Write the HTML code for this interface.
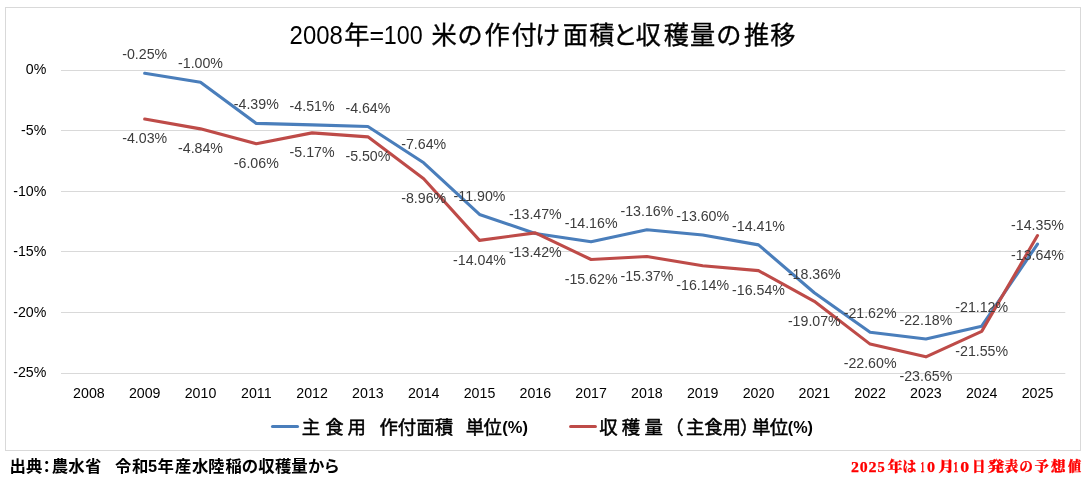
<!DOCTYPE html>
<html lang="ja"><head><meta charset="utf-8"><title>米の作付け面積と収穫量の推移</title>
<style>
html,body{margin:0;padding:0;background:#fff;}
body{width:1087px;height:492px;overflow:hidden;position:relative;font-family:"Liberation Sans","Noto Sans CJK JP",sans-serif;}
svg{position:absolute;left:0;top:0;display:block}
text{white-space:pre}
.ax{font-family:"Liberation Sans","Noto Sans CJK JP",sans-serif;font-size:14.2px;fill:#000}
.dl{font-family:"Liberation Sans","Noto Sans CJK JP",sans-serif;font-size:14.2px;fill:#3c3c3c}
.tl{font-family:"Liberation Sans","Noto Sans CJK JP",sans-serif;font-size:25px;fill:#000}
.tj{font-family:"Liberation Sans","Noto Sans CJK JP",sans-serif;font-size:25.2px;font-weight:400;fill:#000;stroke:#000;stroke-width:0.35px}
.lg{font-family:"Liberation Sans","Noto Sans CJK JP",sans-serif;font-size:18.4px;font-weight:400;fill:#000;stroke:#000;stroke-width:0.5px;stroke-linejoin:round}
.lgl{font-family:"Liberation Sans","Noto Sans CJK JP",sans-serif;font-size:17px;font-weight:bold;fill:#000}
.ft{font-family:"Liberation Sans","Noto Sans CJK JP",sans-serif;font-size:16.4px;font-weight:bold;fill:#000}
.fr{font-family:"Liberation Serif","Noto Serif CJK SC",serif;font-size:13.2px;font-weight:900;fill:#f00;stroke:#f00;stroke-width:0.25px}
.frl{font-family:"Liberation Serif","Noto Serif CJK SC",serif;font-size:14.2px;font-weight:bold;fill:#f00;stroke:#f00;stroke-width:0.25px}
</style></head><body>
<svg width="1087" height="492" viewBox="0 0 1087 492">
<rect x="0" y="0" width="1087" height="492" fill="#fff"/>
<rect x="5.5" y="7.5" width="1075" height="443" fill="#fff" stroke="#d9d9d9" stroke-width="1"/>

<line x1="61" x2="1065.3" y1="70.5" y2="70.5" stroke="#d9d9d9" stroke-width="1"/>
<line x1="61" x2="1065.3" y1="130.5" y2="130.5" stroke="#d9d9d9" stroke-width="1"/>
<line x1="61" x2="1065.3" y1="191.5" y2="191.5" stroke="#d9d9d9" stroke-width="1"/>
<line x1="61" x2="1065.3" y1="251.5" y2="251.5" stroke="#d9d9d9" stroke-width="1"/>
<line x1="61" x2="1065.3" y1="312.5" y2="312.5" stroke="#d9d9d9" stroke-width="1"/>
<line x1="61" x2="1065.3" y1="373.5" y2="373.5" stroke="#d9d9d9" stroke-width="1"/>
<text class="ax" x="46.3" y="74" text-anchor="end">0%</text>
<text class="ax" x="46.3" y="135" text-anchor="end">-5%</text>
<text class="ax" x="46.3" y="196" text-anchor="end">-10%</text>
<text class="ax" x="46.3" y="256" text-anchor="end">-15%</text>
<text class="ax" x="46.3" y="317" text-anchor="end">-20%</text>
<text class="ax" x="46.3" y="377" text-anchor="end">-25%</text>
<text class="ax" x="88.90" y="398" text-anchor="middle">2008</text>
<text class="ax" x="144.70" y="398" text-anchor="middle">2009</text>
<text class="ax" x="200.50" y="398" text-anchor="middle">2010</text>
<text class="ax" x="256.30" y="398" text-anchor="middle">2011</text>
<text class="ax" x="312.10" y="398" text-anchor="middle">2012</text>
<text class="ax" x="367.90" y="398" text-anchor="middle">2013</text>
<text class="ax" x="423.70" y="398" text-anchor="middle">2014</text>
<text class="ax" x="479.50" y="398" text-anchor="middle">2015</text>
<text class="ax" x="535.30" y="398" text-anchor="middle">2016</text>
<text class="ax" x="591.10" y="398" text-anchor="middle">2017</text>
<text class="ax" x="646.90" y="398" text-anchor="middle">2018</text>
<text class="ax" x="702.70" y="398" text-anchor="middle">2019</text>
<text class="ax" x="758.50" y="398" text-anchor="middle">2020</text>
<text class="ax" x="814.30" y="398" text-anchor="middle">2021</text>
<text class="ax" x="870.10" y="398" text-anchor="middle">2022</text>
<text class="ax" x="925.90" y="398" text-anchor="middle">2023</text>
<text class="ax" x="981.70" y="398" text-anchor="middle">2024</text>
<text class="ax" x="1037.50" y="398" text-anchor="middle">2025</text>
<polyline points="144.70,73.23 200.50,82.32 256.30,123.41 312.10,124.86 367.90,126.44 423.70,162.80 479.50,214.43 535.30,233.46 591.10,241.82 646.90,229.70 702.70,235.03 758.50,244.85 814.30,292.72 870.10,332.23 925.90,339.02 981.70,326.17 1037.50,244.12" fill="none" stroke="#4a7ebb" stroke-width="3.1" stroke-linecap="round" stroke-linejoin="round"/>
<polyline points="144.70,119.04 200.50,128.86 256.30,143.65 312.10,132.86 367.90,136.86 423.70,178.80 479.50,240.36 535.30,232.85 591.10,259.51 646.90,256.48 702.70,265.82 758.50,270.66 814.30,301.33 870.10,344.11 925.90,356.84 981.70,331.39 1037.50,235.52" fill="none" stroke="#be4b48" stroke-width="3.1" stroke-linecap="round" stroke-linejoin="round"/>
<text class="dl" x="144.70" y="59" text-anchor="middle">-0.25%</text>
<text class="dl" x="200.50" y="68" text-anchor="middle">-1.00%</text>
<text class="dl" x="256.30" y="109" text-anchor="middle">-4.39%</text>
<text class="dl" x="312.10" y="111" text-anchor="middle">-4.51%</text>
<text class="dl" x="367.90" y="113" text-anchor="middle">-4.64%</text>
<text class="dl" x="423.70" y="149" text-anchor="middle">-7.64%</text>
<text class="dl" x="479.50" y="201" text-anchor="middle">-11.90%</text>
<text class="dl" x="535.30" y="219" text-anchor="middle">-13.47%</text>
<text class="dl" x="591.10" y="228" text-anchor="middle">-14.16%</text>
<text class="dl" x="646.90" y="216" text-anchor="middle">-13.16%</text>
<text class="dl" x="702.70" y="221" text-anchor="middle">-13.60%</text>
<text class="dl" x="758.50" y="231" text-anchor="middle">-14.41%</text>
<text class="dl" x="814.30" y="279" text-anchor="middle">-18.36%</text>
<text class="dl" x="870.10" y="318" text-anchor="middle">-21.62%</text>
<text class="dl" x="925.90" y="325" text-anchor="middle">-22.18%</text>
<text class="dl" x="981.70" y="312" text-anchor="middle">-21.12%</text>
<text class="dl" x="1037.50" y="230" text-anchor="middle">-14.35%</text>
<text class="dl" x="144.70" y="143" text-anchor="middle">-4.03%</text>
<text class="dl" x="200.50" y="153" text-anchor="middle">-4.84%</text>
<text class="dl" x="256.30" y="168" text-anchor="middle">-6.06%</text>
<text class="dl" x="312.10" y="157" text-anchor="middle">-5.17%</text>
<text class="dl" x="367.90" y="161" text-anchor="middle">-5.50%</text>
<text class="dl" x="423.70" y="203" text-anchor="middle">-8.96%</text>
<text class="dl" x="479.50" y="265" text-anchor="middle">-14.04%</text>
<text class="dl" x="535.30" y="257" text-anchor="middle">-13.42%</text>
<text class="dl" x="591.10" y="284" text-anchor="middle">-15.62%</text>
<text class="dl" x="646.90" y="281" text-anchor="middle">-15.37%</text>
<text class="dl" x="702.70" y="290" text-anchor="middle">-16.14%</text>
<text class="dl" x="758.50" y="295" text-anchor="middle">-16.54%</text>
<text class="dl" x="814.30" y="326" text-anchor="middle">-19.07%</text>
<text class="dl" x="870.10" y="368" text-anchor="middle">-22.60%</text>
<text class="dl" x="925.90" y="381" text-anchor="middle">-23.65%</text>
<text class="dl" x="981.70" y="356" text-anchor="middle">-21.55%</text>
<text class="dl" x="1037.50" y="260" text-anchor="middle">-13.64%</text>
<text><tspan class="tl" x="289.60" y="44.3" textLength="53.25" lengthAdjust="spacingAndGlyphs">2008</tspan><tspan class="tj" x="344.27" y="43.6">年</tspan><tspan class="tl" x="369.48" y="44.3">=</tspan><tspan class="tl" x="383.74" y="44.3" textLength="38.85" lengthAdjust="spacingAndGlyphs">100</tspan><tspan> </tspan><tspan class="tj" x="431.43" y="43.6">米</tspan><tspan class="tj" x="457.43" y="43.6">の</tspan><tspan class="tj" x="484.62" y="43.6">作</tspan><tspan class="tj" x="511.60" y="43.6">付</tspan><tspan class="tj" x="534.88" y="43.6">け</tspan><tspan class="tj" x="562.73" y="43.6">面</tspan><tspan class="tj" x="589.18" y="43.6">積</tspan><tspan class="tj" x="612.41" y="43.6">と</tspan><tspan class="tj" x="635.79" y="43.6">収</tspan><tspan class="tj" x="663.78" y="43.6">穫</tspan><tspan class="tj" x="689.97" y="43.6">量</tspan><tspan class="tj" x="716.28" y="43.6">の</tspan><tspan class="tj" x="744.05" y="43.6">推</tspan><tspan class="tj" x="770.20" y="43.6">移</tspan></text>
<line x1="272.5" x2="297.5" y1="426.5" y2="426.5" stroke="#4a7ebb" stroke-width="3.1" stroke-linecap="round"/>
<text><tspan class="lg" x="301.70" y="434.3">主 </tspan><tspan class="lg" x="325.30" y="434.3">食 </tspan><tspan class="lg" x="347.55" y="434.3">用  </tspan><tspan class="lg" x="379.60" y="434.3">作</tspan><tspan class="lg" x="397.83" y="434.3">付</tspan><tspan class="lg" x="416.20" y="434.3">面</tspan><tspan class="lg" x="434.68" y="434.3">積  </tspan><tspan class="lg" x="465.65" y="434.3">単</tspan><tspan class="lg" x="483.52" y="434.3">位</tspan><tspan class="lgl" x="502.27" y="432.8" textLength="25.63" lengthAdjust="spacingAndGlyphs">(%)</tspan></text>
<line x1="570.6" x2="595.4" y1="426.5" y2="426.5" stroke="#be4b48" stroke-width="3.1" stroke-linecap="round"/>
<text><tspan class="lg" x="599.15" y="434.3">収 </tspan><tspan class="lg" x="621.80" y="434.3">穫 </tspan><tspan class="lg" x="644.52" y="434.3">量 </tspan><tspan class="lg" x="665.33" y="434.3">（</tspan><tspan class="lg" x="685.90" y="434.3">主</tspan><tspan class="lg" x="704.15" y="434.3">食</tspan><tspan class="lg" x="722.50" y="434.3">用</tspan><tspan class="lg" x="739.90" y="434.3">）</tspan><tspan class="lg" x="751.95" y="434.3">単</tspan><tspan class="lg" x="769.83" y="434.3">位</tspan><tspan class="lgl" x="787.78" y="432.8" textLength="25.21" lengthAdjust="spacingAndGlyphs">(%)</tspan></text>
<text><tspan class="ft" x="9.55" y="471.8">出</tspan><tspan class="ft" x="26.10" y="471.8">典</tspan><tspan class="ft" x="38.45" y="471.8">：</tspan><tspan class="ft" x="51.80" y="471.8">農</tspan><tspan class="ft" x="68.35" y="471.8">水</tspan><tspan class="ft" x="85.03" y="471.8">省  </tspan><tspan class="ft" x="114.95" y="471.8">令</tspan><tspan class="ft" x="132.00" y="471.8">和</tspan><tspan class="ft" x="148.07" y="471.8">5</tspan><tspan class="ft" x="157.45" y="471.8">年</tspan><tspan class="ft" x="175.10" y="471.8">産</tspan><tspan class="ft" x="191.95" y="471.8">水</tspan><tspan class="ft" x="208.12" y="471.8">陸</tspan><tspan class="ft" x="225.47" y="471.8">稲</tspan><tspan class="ft" x="241.77" y="471.8">の</tspan><tspan class="ft" x="258.20" y="471.8">収</tspan><tspan class="ft" x="274.88" y="471.8">穫</tspan><tspan class="ft" x="291.30" y="471.8">量</tspan><tspan class="ft" x="308.05" y="471.8">か</tspan><tspan class="ft" x="323.52" y="471.8">ら</tspan></text>
<text><tspan class="frl" x="851.04" y="471.7" textLength="7.93" lengthAdjust="spacingAndGlyphs">2</tspan><tspan class="frl" x="859.84" y="471.7" textLength="7.93" lengthAdjust="spacingAndGlyphs">0</tspan><tspan class="frl" x="868.63" y="471.7" textLength="8.05" lengthAdjust="spacingAndGlyphs">2</tspan><tspan class="frl" x="877.59" y="471.7" textLength="7.22" lengthAdjust="spacingAndGlyphs">5</tspan><tspan class="fr" x="887.43" y="471.3" textLength="14.98" lengthAdjust="spacingAndGlyphs">年</tspan><tspan class="fr" x="902.46" y="471.3" textLength="13.71" lengthAdjust="spacingAndGlyphs">は</tspan><tspan class="frl" x="920.38" y="471.7" textLength="4.12" lengthAdjust="spacingAndGlyphs">1</tspan><tspan class="frl" x="927.13" y="471.7" textLength="8.05" lengthAdjust="spacingAndGlyphs">0</tspan><tspan class="fr" x="938.20" y="471.3" textLength="15.97" lengthAdjust="spacingAndGlyphs">月</tspan><tspan class="frl" x="953.33" y="471.7" textLength="4.97" lengthAdjust="spacingAndGlyphs">1</tspan><tspan class="frl" x="960.27" y="471.7" textLength="8.88" lengthAdjust="spacingAndGlyphs">0</tspan><tspan class="fr" x="972.11" y="471.3" textLength="13.41" lengthAdjust="spacingAndGlyphs">日</tspan><tspan class="fr" x="987.56" y="471.3" textLength="16.90" lengthAdjust="spacingAndGlyphs">発</tspan><tspan class="fr" x="1004.44" y="471.3" textLength="13.77" lengthAdjust="spacingAndGlyphs">表</tspan><tspan class="fr" x="1019.44" y="471.3" textLength="13.31" lengthAdjust="spacingAndGlyphs">の</tspan><tspan class="fr" x="1034.56" y="471.3" textLength="14.33" lengthAdjust="spacingAndGlyphs">予</tspan><tspan class="fr" x="1050.82" y="471.3" textLength="14.87" lengthAdjust="spacingAndGlyphs">想</tspan><tspan class="fr" x="1067.95" y="471.3" textLength="13.15" lengthAdjust="spacingAndGlyphs">値</tspan></text>
</svg></body></html>
